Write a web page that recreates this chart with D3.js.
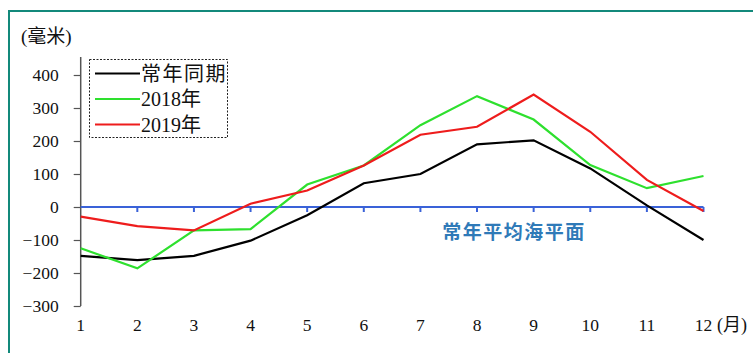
<!DOCTYPE html>
<html>
<head>
<meta charset="utf-8">
<script src="https://cdn.jsdelivr.net/npm/d3@7"></script>
<style>
  html, body { margin: 0; padding: 0; background: #fff; }
  svg { display: block; }
  text { font-family: "Liberation Serif", "Times New Roman", "Noto Sans CJK SC", serif; }
</style>
</head>
<body>
<svg id="chart" width="753" height="353"></svg>
<script>
// Monthly sea level anomaly (mm) relative to the long-term mean sea level
const months = [1, 2, 3, 4, 5, 6, 7, 8, 9, 10, 11, 12];
const normal = [-148, -161, -148, -102, -25, 72, 100, 190, 202, 117, 5, -100];
const y2018 = [-125, -186, -71, -67, 68, 126, 248, 336, 265, 127, 57, 94];
const y2019 = [-29, -58, -71, 10, 50, 126, 219, 243, 341, 228, 82, -12];
const yTicks = [-300, -200, -100, 0, 100, 200, 300, 400];

const seriesList = [
  { name: "常年同期", values: normal, color: "#000000" },
  { name: "2018年", values: y2018, color: "#2ee02e" },
  { name: "2019年", values: y2019, color: "#ee1c1c" }
];

const svg = d3.select("#chart");

// outer frame
svg.append("path")
  .attr("d", "M9,360 L9,11 L760,11")
  .attr("fill", "none")
  .attr("stroke", "#13897b")
  .attr("stroke-width", 2);

const x = d3.scaleLinear().domain([1, 12]).range([80.7, 703.5]);
const y = d3.scaleLinear().domain([-300, 400]).range([306, 75]);

// y axis
const yAxis = d3.axisLeft(y).tickValues(yTicks).tickSize(7).tickPadding(15).tickFormat(d3.format("d"));
const gy = svg.append("g").attr("transform", "translate(80.7,0)").call(yAxis);
gy.select(".domain").attr("d", "M0,57V306").attr("stroke", "#555").attr("stroke-width", 1.5);
gy.selectAll(".tick line").attr("stroke", "#555").attr("stroke-width", 1.2);
gy.selectAll(".tick text").attr("font-size", 17.5).attr("fill", "#111").attr("dy", "0.34em");

// unit label
svg.append("text").attr("x", 21).attr("y", 43).attr("font-size", 19).attr("fill", "#111").text("(毫米)");

// mean sea level baseline with month ticks
const zeroG = svg.append("g").attr("transform", `translate(0,${y(0)})`);
zeroG.append("line")
  .attr("x1", x(1)).attr("x2", x(12))
  .attr("stroke", "#3a62d8").attr("stroke-width", 2.2);
zeroG.selectAll("line.mt").data(months.slice(1)).join("line")
  .attr("class", "mt")
  .attr("x1", d => x(d)).attr("x2", d => x(d))
  .attr("y1", 0).attr("y2", 5)
  .attr("stroke", "#3a62d8").attr("stroke-width", 2);

svg.append("text")
  .attr("x", 514).attr("y", 239)
  .attr("text-anchor", "middle")
  .attr("font-size", 19).attr("font-weight", "bold")
  .attr("letter-spacing", 1.5)
  .attr("fill", "#2f7ab8")
  .text("常年平均海平面");

// month labels
svg.append("g").selectAll("text").data(months).join("text")
  .attr("x", d => x(d)).attr("y", 331)
  .attr("text-anchor", "middle")
  .attr("font-size", 17.5).attr("fill", "#111")
  .text(d => d);
svg.append("text").attr("x", 717).attr("y", 331).attr("font-size", 18).attr("fill", "#111").text("(月)");

// series lines
const line = d3.line().x((d, i) => x(months[i])).y(d => y(d));
svg.append("g").selectAll("path").data(seriesList).join("path")
  .attr("d", s => line(s.values))
  .attr("fill", "none")
  .attr("stroke", s => s.color)
  .attr("stroke-width", 2.2)
  .attr("stroke-linejoin", "miter");

// legend
const lg = svg.append("g");
lg.append("rect")
  .attr("x", 89.5).attr("y", 59.5).attr("width", 138).attr("height", 78)
  .attr("fill", "#fff").attr("stroke", "#222").attr("stroke-width", 1)
  .attr("stroke-dasharray", "2,1.5");
const items = lg.selectAll("g.item").data(seriesList).join("g")
  .attr("class", "item")
  .attr("transform", (d, i) => `translate(0,${73.5 + i * 25.5})`);
items.append("line").attr("x1", 95).attr("x2", 140)
  .attr("stroke", d => d.color).attr("stroke-width", 2.2);
items.append("text").attr("x", 141).attr("y", 7)
  .attr("font-size", 20).attr("fill", "#111")
  .attr("letter-spacing", (d, i) => i === 0 ? 1.5 : 0)
  .text(d => d.name);
</script>
</body>
</html>
